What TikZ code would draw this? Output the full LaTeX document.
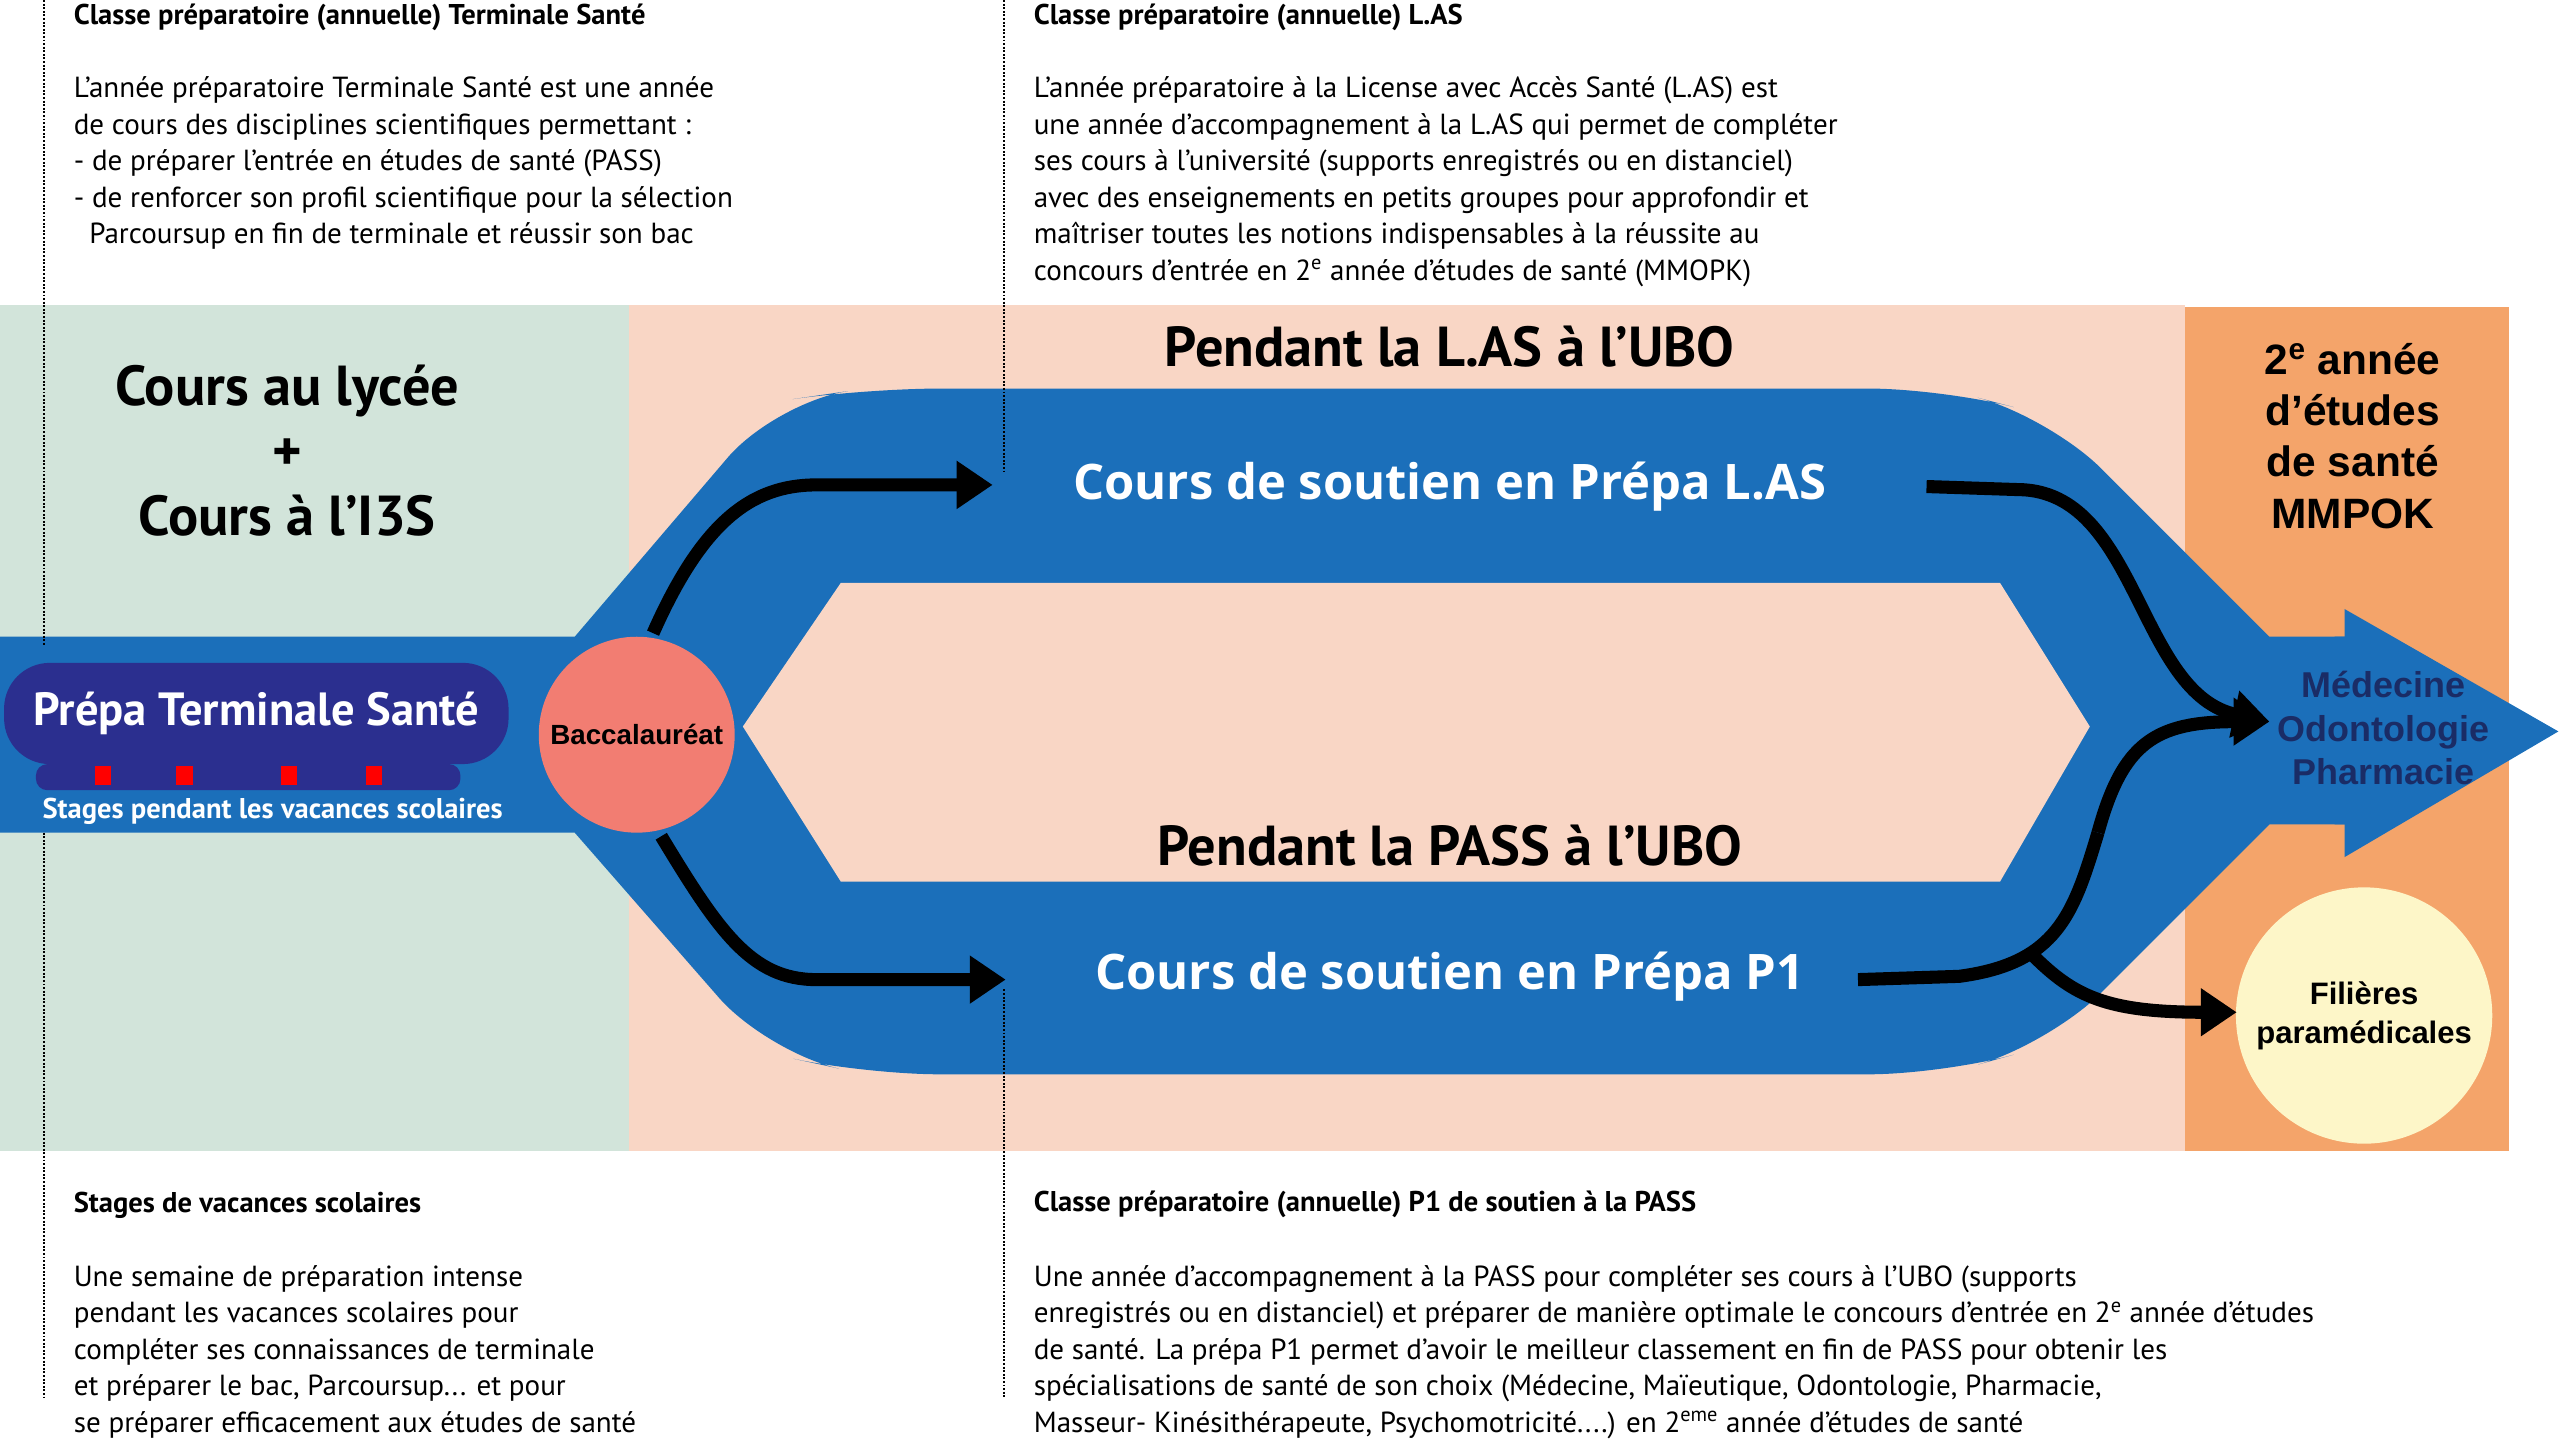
\documentclass[tikz,border=0pt]{standalone}
\usepackage{fontspec}
\setmainfont{PT Sans}
\newfontfamily\arialf{Liberation Sans}
\newfontfamily\widef{Open Sans}
\usetikzlibrary{arrows.meta}
\definecolor{bandblue}{HTML}{1B6FBA}
\definecolor{navy}{HTML}{2B2F8F}
\definecolor{greenbg}{HTML}{D2E4DA}
\definecolor{peachbg}{HTML}{F9D6C5}
\definecolor{orangebg}{HTML}{F4A46A}
\definecolor{salmon}{HTML}{F27D72}
\definecolor{paleyel}{HTML}{FDF6C8}
\definecolor{medtext}{HTML}{1A2C66}
\tikzset{
 body/.style={anchor=north west,align=left,font=\fontsize{17.8}{22.3}\selectfont,inner sep=0},
 ttl/.style={anchor=north west,font=\bfseries\fontsize{17.5}{20}\selectfont,inner sep=0},
 dotl/.style={densely dotted,line width=1.2pt},
 blk/.style={line width=8pt,-{Triangle[length=22pt,width=28pt]}},
 hdr/.style={font=\bfseries\fontsize{34.5}{40}\selectfont},
 wht/.style={font=\widef\bfseries\fontsize{30}{34}\selectfont,text=white},
}
\begin{document}
\begin{tikzpicture}[x=1pt,y=-1pt]
\useasboundingbox (0,0) rectangle (1568,883);
% backgrounds
\fill[greenbg] (0,187) rectangle (385,705);
\fill[peachbg] (385,187) rectangle (1338,705);
\fill[orangebg] (1338,188) rectangle (1537,705);
% blue shape
\fill[bandblue] (0,390) -- (352,390) [rounded corners=45] -- (475,246) -- (530,238) -- (1190,238) -- (1255,255) [sharp corners] -- (1390,390) -- (1436,390)
 -- (1436,505) -- (1390,505) [rounded corners=45] -- (1255,640) -- (1190,658) -- (530,658) -- (470,645) [sharp corners] -- (352,510) -- (0,510) -- cycle;
\fill[bandblue] (1430,390) -- (1436,390) -- (1436,373) -- (1567,448) -- (1436,525) -- (1436,505) -- (1430,505) -- cycle;
\fill[peachbg] (455,445) -- (515,357) -- (1225,357) -- (1280,445) -- (1225,540) -- (515,540) -- cycle;
% dotted lines
\draw[dotl] (27,0) -- (27,396); \draw[dotl] (27,510) -- (27,856);
\draw[dotl] (615,0) -- (615,290); \draw[dotl] (615,606) -- (615,856);
% top texts
\node[ttl] (t1) at (45,2) {Classe préparatoire (annuelle) Terminale Santé};
\node[body] (b1) at (45,47) {L’année préparatoire Terminale Santé est une année\\de cours des disciplines scientifiques permettant :\\- de préparer l’entrée en études de santé (PASS)\\- de renforcer son profil scientifique pour la sélection\\\ \ Parcoursup en fin de terminale et réussir son bac};
\node[ttl] (t2) at (633,2) {Classe préparatoire (annuelle) L.AS};
\node[body] (b2) at (633,47) {L’année préparatoire à la License avec Accès Santé (L.AS) est\\une année d’accompagnement à la L.AS qui permet de compléter\\ses cours à l’université (supports enregistrés ou en distanciel)\\avec des enseignements en petits groupes pour approfondir et\\maîtriser toutes les notions indispensables à la réussite au\\concours d’entrée en 2\textsuperscript{e} année d’études de santé (MMOPK)};
% bottom texts
\node[ttl] (t3) at (45,730) {Stages de vacances scolaires};
\node[body] (b3) at (45,775) {Une semaine de préparation intense\\pendant les vacances scolaires pour\\compléter ses connaissances de terminale\\et préparer le bac, Parcoursup... et pour\\se préparer efficacement aux études de santé};
\node[ttl] (t4) at (633,729) {Classe préparatoire (annuelle) P1 de soutien à la PASS};
\node[body] (b4) at (633,775) {Une année d’accompagnement à la PASS pour compléter ses cours à l’UBO (supports\\enregistrés ou en distanciel) et préparer de manière optimale le concours d’entrée en 2\textsuperscript{e} année d’études\\de santé. La prépa P1 permet d’avoir le meilleur classement en fin de PASS pour obtenir les\\spécialisations de santé de son choix (Médecine, Maïeutique, Odontologie, Pharmacie,\\Masseur- Kinésithérapeute, Psychomotricité....) en 2\textsuperscript{eme} année d’études de santé};
% left zone
\node[align=center,font=\bfseries\fontsize{34.5}{40}\selectfont] (lyc) at (176,276) {Cours au lycée\\+\\Cours à l’I3S};
\node[fill=navy,rounded corners=28pt,minimum width=309pt,minimum height=62pt,text=white,font=\bfseries\fontsize{28.5}{30}\selectfont] (prep) at (157,437) {Prépa Terminale Santé};
\fill[navy,rounded corners=7pt] (22,468) rectangle (282,484);
\foreach \xx in {63,113,177,229} \fill[red] (\xx-5,469) rectangle (\xx+5,481);
\node[text=white,font=\bfseries\fontsize{17.5}{20}\selectfont] (stg) at (167,497) {Stages pendant les vacances scolaires};
\node[circle,fill=salmon,minimum size=120pt,inner sep=0,font=\arialf\bfseries\fontsize{17}{20}\selectfont] (bac) at (390,450) {Baccalauréat};
% middle
\node[hdr] (las) at (888,212) {Pendant la L.AS à l’UBO};
\node[hdr] (pass) at (888,518) {Pendant la PASS à l’UBO};
\node[wht] (cl) at (888,298) {Cours de soutien en Prépa L.AS};
\node[wht] (cp) at (888,598) {Cours de soutien en Prépa P1};
% right
\node[align=center,font=\arialf\bfseries\fontsize{26}{31.5}\selectfont] (mm) at (1441,267) {2\textsuperscript{e} année\\d’études\\de santé\\MMPOK};
\node[align=center,text=medtext,font=\arialf\bfseries\fontsize{22}{26.5}\selectfont] (med) at (1460,446) {Médecine\\Odontologie\\Pharmacie};
\node[circle,fill=paleyel,minimum size=157pt,inner sep=0,align=center,font=\arialf\bfseries\fontsize{19}{24}\selectfont] (fil) at (1448,622) {Filières\\paramédicales};
% arrows
\coordinate (j) at (1390,442);
\draw[blk] (bac.north) ++(10,-2) .. controls (430,320) and (460,297) .. (500,297) -- (608,297);
\draw[blk] (bac.south) ++(15,2) .. controls (440,570) and (460,600) .. (500,600) -- (616,600);
\draw[blk] (1180,298) -- (1240,300) .. controls (1310,305) and (1310,425) .. (j);
\draw[line width=8pt] (1138,600) -- (1200,598) .. controls (1260,590) and (1270,560) .. (1285,510);
\draw[blk] (1285,510) .. controls (1300,455) and (1320,442) .. (j);
\draw[blk] (1245,585) .. controls (1270,610) and (1290,620) .. (1370,620);
\end{tikzpicture}
\end{document}
